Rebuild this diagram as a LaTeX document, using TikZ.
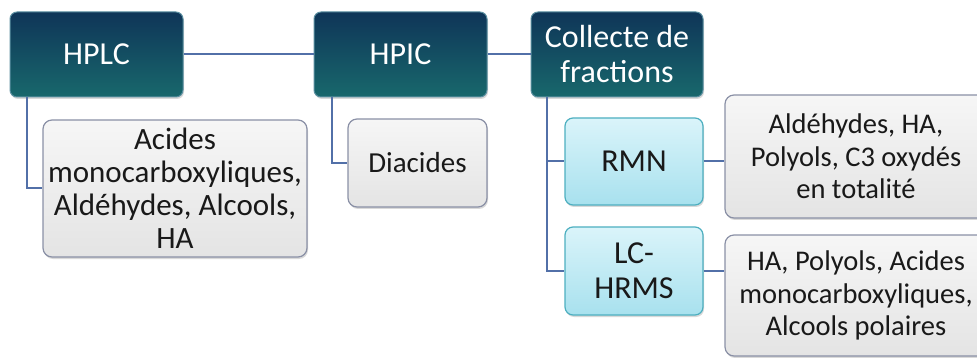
\documentclass[tikz,border=0pt]{standalone}
\usepackage{fontspec}
\setmainfont{Carlito}
\usepackage{xcolor}
\usepackage{tikz}
\usetikzlibrary{calc,shadows}
\definecolor{navytop}{HTML}{0F3558}
\definecolor{tealbot}{HTML}{18686C}
\definecolor{darkedge}{HTML}{5A8FA0}
\definecolor{greytop}{HTML}{F6F6F6}
\definecolor{greybot}{HTML}{E4E4E4}
\definecolor{greyedge}{HTML}{8A90A6}
\definecolor{cyantop}{HTML}{DAF4FA}
\definecolor{cyanbot}{HTML}{A8E1EE}
\definecolor{cyanedge}{HTML}{4DAFC0}
\definecolor{linkblue}{HTML}{5270A8}

\begin{document}
\begin{tikzpicture}[x=1pt,y=-1pt,
    method/.style={rounded corners=7pt, draw=darkedge, line width=1pt,
        top color=navytop, bottom color=tealbot, text=white, align=center,
        font=\fontsize{32}{35}\selectfont, inner sep=0pt,
        drop shadow={opacity=0.3, shadow xshift=1pt, shadow yshift=-2pt}},
    result/.style={rounded corners=9pt, draw=greyedge, line width=1.2pt,
        top color=greytop, bottom color=greybot, text=black!90, align=center,
        font=\fontsize{28.5}{32.5}\selectfont, inner sep=0pt,
        drop shadow={opacity=0.3, shadow xshift=1pt, shadow yshift=-2pt}},
    analysis/.style={rounded corners=8pt, draw=cyanedge, line width=1.2pt,
        top color=cyantop, bottom color=cyanbot, text=black!90, align=center,
        font=\fontsize{32}{35}\selectfont, inner sep=0pt,
        drop shadow={opacity=0.3, shadow xshift=1pt, shadow yshift=-2pt}},
    link/.style={linkblue, line width=2pt}]
    \useasboundingbox (0,0) rectangle (977,358);
    \clip (0,0) rectangle (977,358);

    % top row
    \node[method, minimum width=173, minimum height=85] (hplc) at (96.5,54.5) {HPLC};
    \node[method, minimum width=173, minimum height=85] (hpic) at (400.5,54.5) {HPIC};
    \node[method, minimum width=172, minimum height=85] (collecte) at (617,54.5) {Collecte de\\fractions};

    % what each method gives
    \node[result, minimum width=264, minimum height=137, font=\fontsize{31}{33}\selectfont]
        (acides) at (175,188.5) {Acides\\monocarboxyliques,\\Aldéhydes, Alcools,\\HA};
    \node[result, minimum width=139, minimum height=88, font=\fontsize{29}{32}\selectfont]
        (diacides) at (417.5,163) {Diacides};
    \node[analysis, minimum width=138, minimum height=87] (rmn) at (634,161.5) {RMN};
    \node[analysis, minimum width=138, minimum height=88] (lchrms) at (634,271) {LC-\\HRMS};
    \node[result, minimum width=262, minimum height=123] (rmnres) at (856,156.5)
        {Aldéhydes, HA,\\Polyols, C3 oxydés\\en totalité};
    \node[result, minimum width=262, minimum height=121] (lcres) at (856,295.5)
        {HA, Polyols, Acides\\monocarboxyliques,\\Alcools polaires};

    % connectors
    \draw[link] (hplc.east) -- (hpic.west);
    \draw[link] (hpic.east) -- (collecte.west);
    \draw[link] ($(hplc.south west)+(17,0)$) |- (acides.west);
    \draw[link] ($(hpic.south west)+(18,0)$) |- (diacides.west);
    \draw[link] ($(collecte.south west)+(16,0)$) |- (rmn.west);
    \draw[link] ($(collecte.south west)+(16,0)$) |- (lchrms.west);
    \draw[link] (rmn.east) -- (rmn.east -| rmnres.west);
    \draw[link] (lchrms.east) -- (lchrms.east -| lcres.west);
\end{tikzpicture}
\end{document}
